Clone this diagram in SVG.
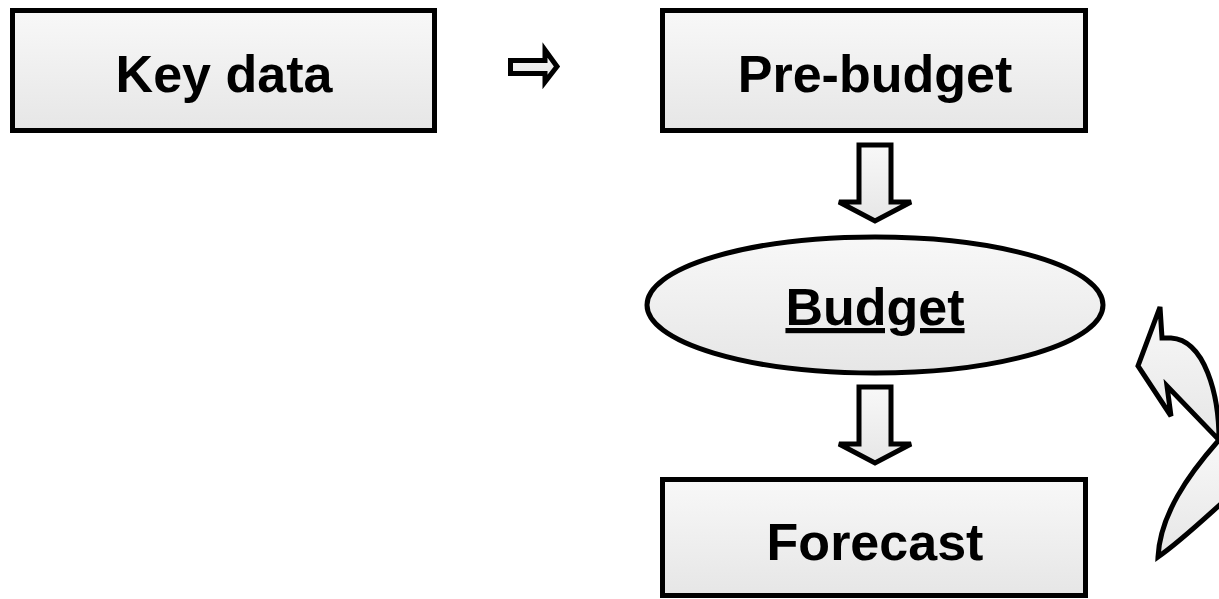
<svg xmlns="http://www.w3.org/2000/svg" width="1219" height="599" viewBox="0 0 1219 599">
  <defs>
    <linearGradient id="g" x1="0" y1="0" x2="0" y2="1">
      <stop offset="0" stop-color="#f8f8f8"/>
      <stop offset="1" stop-color="#e6e6e6"/>
    </linearGradient>
  </defs>
  <style>
    .shape { fill: url(#g); stroke: #000; stroke-width: 5; stroke-linejoin: miter; }
    .lbl { font-family: "Liberation Sans", Arial, sans-serif; font-weight: bold; font-size: 52px; fill: #000; text-anchor: middle; }
  </style>
  <rect width="1219" height="599" fill="#fff"/>

  <g id="key-data">
    <rect class="shape" x="12.5" y="10.5" width="422" height="120"/>
    <text class="lbl" x="224" y="92">Key data</text>
  </g>

  <g id="pre-budget">
    <rect class="shape" x="662.5" y="10.5" width="423" height="120"/>
    <text class="lbl" x="875" y="92">Pre-budget</text>
  </g>

  <g id="budget">
    <ellipse class="shape" cx="875" cy="305" rx="228" ry="68"/>
    <text class="lbl" x="875" y="325" text-decoration="underline">Budget</text>
  </g>

  <g id="forecast">
    <rect class="shape" x="662.5" y="479.5" width="423" height="116"/>
    <text class="lbl" x="875" y="560">Forecast</text>
  </g>

  <g id="connectors">
    <path class="shape" d="M510.5,60.5 L545,60.5 L545,50 L557,66.5 L545,82 L545,73.5 L510.5,73.5 Z"/>
    <path class="shape" d="M859,145 L891,145 L891,202 L911,202 L875,221 L839,202 L859,202 Z"/>
    <path class="shape" d="M859,387 L891,387 L891,444 L911,444 L875,463 L839,444 L859,444 Z"/>
    <path class="shape" d="M1160,307 L1138,366 L1171,416 L1167,386 L1219,440 C1219,395 1205,340 1171,338 L1162,338 Z"/>
    <path class="shape" d="M1219,440 C1188,475 1160,515 1158,557 C1180,542 1205,518 1232,494 L1240,450 Z"/>
  </g>
</svg>
